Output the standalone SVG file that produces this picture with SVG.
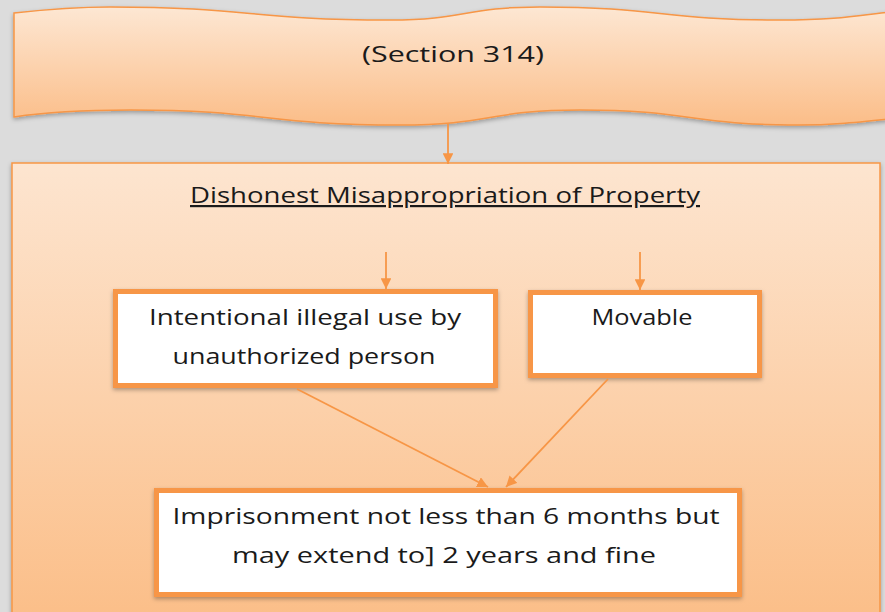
<svg xmlns="http://www.w3.org/2000/svg" width="885" height="612" viewBox="0 0 885 612">
  <style>
    .lbl { font-family: "Open Sans", "Liberation Sans", sans-serif; font-size: 22px; fill: #1a1a1a; text-anchor: middle; }
    .card { fill: #ffffff; stroke: #f79646; stroke-width: 5; }
    .conn { stroke: #f79646; stroke-width: 1.8; fill: none; marker-end: url(#tip); }
  </style>
  <defs>
    <linearGradient id="peach" x1="0" y1="0" x2="0" y2="1">
      <stop offset="0" stop-color="#fde7d3"/>
      <stop offset="1" stop-color="#fbbd88"/>
    </linearGradient>
    <linearGradient id="panel" x1="0" y1="0" x2="0" y2="1">
      <stop offset="0" stop-color="#fde5d0"/>
      <stop offset="1" stop-color="#fbbd86"/>
    </linearGradient>
    <filter id="shadow" x="-5%" y="-10%" width="110%" height="125%">
      <feDropShadow dx="0" dy="2" stdDeviation="2" flood-color="#000" flood-opacity="0.3"/>
    </filter>
    <marker id="tip" viewBox="0 0 10 10" refX="10" refY="5" markerWidth="6" markerHeight="6" orient="auto" markerUnits="strokeWidth">
      <path d="M0,0 L10,5 L0,10 Z" fill="#f79646"/>
    </marker>
  </defs>

  <rect width="885" height="612" fill="#dcdcdc"/>

  <!-- wavy banner -->
  <g id="section">
    <path filter="url(#shadow)" fill="url(#peach)" stroke="#f79646" stroke-width="1.5"
      d="M14,13 C50,9 80,7 110,7 C250,7 250,20 390,20 C465,20 465,7 540,7 C660,7 660,20 780,20 C840,20 860,15 890,12
         L890,119 C850,123 830,125 800,125 C690,125 690,110 580,110 C490,110 490,125 400,125 C265,125 265,110 130,110 C70,110 40,113 14,117 Z"/>
    <text class="lbl" x="453" y="62" textLength="182" lengthAdjust="spacingAndGlyphs">(Section 314)</text>
  </g>

  <!-- outer panel -->
  <g id="panel-group">
    <rect x="12" y="163" width="868" height="470" fill="url(#panel)" stroke="#f79646" stroke-width="1.5" filter="url(#shadow)"/>
    <text class="lbl" x="445" y="203" textLength="510" lengthAdjust="spacingAndGlyphs" text-decoration="underline">Dishonest Misappropriation of Property</text>
  </g>

  <g id="use">
    <rect class="card" x="115.5" y="291.5" width="380" height="94" filter="url(#shadow)"/>
    <text class="lbl" x="305" y="325" textLength="312" lengthAdjust="spacingAndGlyphs">Intentional illegal use by</text>
    <text class="lbl" x="304" y="364" textLength="263" lengthAdjust="spacingAndGlyphs">unauthorized person</text>
  </g>

  <g id="movable">
    <rect class="card" x="530.5" y="292.5" width="229" height="83" filter="url(#shadow)"/>
    <text class="lbl" x="642" y="325" textLength="101" lengthAdjust="spacingAndGlyphs">Movable</text>
  </g>

  <g id="penalty">
    <rect class="card" x="156.5" y="490.5" width="583" height="104" filter="url(#shadow)"/>
    <text class="lbl" x="446" y="524" textLength="547" lengthAdjust="spacingAndGlyphs">Imprisonment not less than 6 months but</text>
    <text class="lbl" x="444" y="563" textLength="424" lengthAdjust="spacingAndGlyphs">may extend to] 2 years and fine</text>
  </g>

  <g id="connectors">
    <line class="conn" x1="448" y1="124" x2="448" y2="164"/>
    <line class="conn" x1="386" y1="252" x2="386" y2="289"/>
    <line class="conn" x1="640" y1="252" x2="640" y2="290"/>
    <line class="conn" x1="297" y1="389" x2="488" y2="487"/>
    <line class="conn" x1="608" y1="379" x2="506" y2="487"/>
  </g>
</svg>
